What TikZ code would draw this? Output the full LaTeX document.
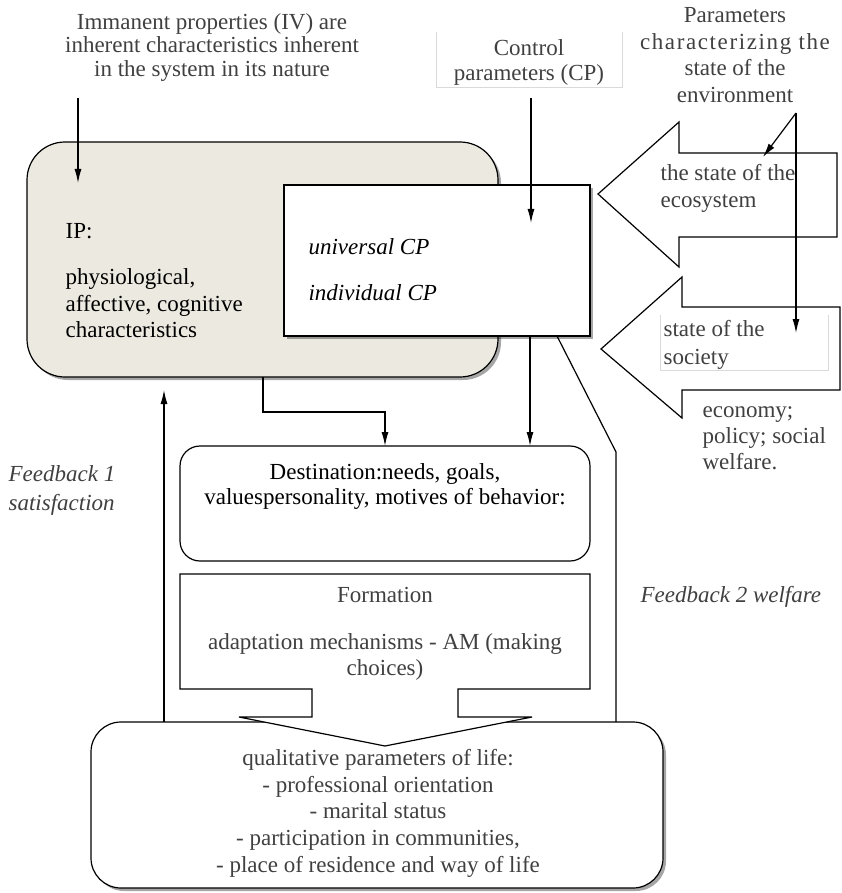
\documentclass[tikz,border=0pt]{standalone}
\usepackage{fontspec}
\setmainfont{Liberation Serif}
\newfontfamily\widefont[LetterSpace=7]{Liberation Serif}
\usetikzlibrary{arrows.meta,shadows}
\definecolor{txtgray}{RGB}{64,64,64}
\definecolor{ipfill}{RGB}{236,233,224}
\definecolor{faint}{RGB}{218,218,218}
\begin{document}
\begin{tikzpicture}[x=1pt,y=-1pt,line width=1.2pt,
  arr/.style={-{Latex[length=14pt,width=7pt]}},
  shad/.style={drop shadow={shadow xshift=3pt,shadow yshift=-3pt,fill=black,opacity=.35}},
  txt/.style={inner sep=0pt,font=\fontsize{23}{26.5}\selectfont},
  gtxt/.style={txt,text=txtgray},
  boxnode/.style={draw,inner sep=0pt,outer sep=0pt,anchor=north west}]
\useasboundingbox (0,0) rectangle (841,893);

% top-left text
\node[gtxt,align=center,anchor=north,font=\fontsize{23}{23.3}\selectfont] (iv) at (212,12.7)
  {\strut Immanent properties (IV) are\\inherent characteristics inherent\\in the system in its nature};

% IP box
\node[boxnode,fill=ipfill,rounded corners=38pt,shad,minimum width=471pt,minimum height=235pt] (ip) at (27,142) {};
\node[txt,anchor=base west] (iph) at (65,239) {IP:};
\node[txt,align=left,anchor=north west,font=\fontsize{23}{26.7}\selectfont] (ipt) at (65,265.3)
  {\strut physiological,\\affective, cognitive\\characteristics};

% CP box
\node[boxnode,fill=white,shad,minimum width=306pt,minimum height=151pt] (cp) at (284,185) {};
\node[txt,anchor=base west,font=\fontsize{23}{26.5}\selectfont\itshape] (ucp) at (308,254) {universal CP};
\node[txt,anchor=base west,font=\fontsize{23}{26.5}\selectfont\itshape] (icp) at (308,300) {individual CP};

% control parameters
\node[gtxt,align=center,anchor=north,font=\fontsize{23}{25}\selectfont] (ctl) at (529,37.5)
  {\strut Control\\parameters (CP)};
\draw[faint,line width=0.8pt] (436,32) -- (436,87) -- (622,87) -- (622,32);

% environment text
\node[gtxt,align=center,anchor=north,font=\fontsize{23}{26.7}\selectfont] (env) at (735,3.3)
  {\strut Parameters\\{\widefont characterizing the}\\state of the\\environment};

% big block arrows
\draw[fill=white] (598,194) -- (679,122) -- (679,153) -- (837,153) -- (837,237) -- (679,237) -- (679,267) -- cycle;
\draw[fill=white] (601,349) -- (682,277) -- (682,307) -- (840,307) -- (840,390) -- (682,390) -- (682,418) -- cycle;
\node[gtxt,align=left,anchor=north west,font=\fontsize{23}{27}\selectfont] (eco) at (660,161)
  {\strut the state of the\\ecosystem};
\node[gtxt,align=left,anchor=north west,font=\fontsize{23}{28}\selectfont] (soc) at (663,316)
  {\strut state of the\\society};
\draw[faint,line width=0.8pt] (660,315) -- (660,370) -- (828,370) -- (828,315);
\node[gtxt,align=left,anchor=north west,font=\fontsize{23}{26}\selectfont] (econ) at (702,399)
  {\strut economy;\\policy; social\\welfare.};

% destination box
\node[boxnode,fill=white,rounded corners=20pt,minimum width=410pt,minimum height=115pt] (dest) at (180,446) {};
\node[txt,align=center,anchor=north,font=\fontsize{23}{25}\selectfont] (destt) at (385,461.5)
  {\strut Destination:needs, goals,\\valuespersonality, motives of behavior:};

% bottom box
\node[boxnode,fill=white,rounded corners=30pt,shad,minimum width=572pt,minimum height=166pt] (qual) at (91,722) {};
\node[gtxt,align=center,anchor=north,font=\fontsize{23}{26.7}\selectfont] (qualt) at (378,746)
  {\strut qualitative parameters of life:\\- professional orientation\\- marital status\\- participation in communities,\\- place of residence and way of life};

% formation block arrow
\draw[fill=white] (180,574) -- (590,574) -- (590,689) -- (458,689) -- (458,717) -- (532,717) -- (385,746)
  -- (239,717) -- (312,717) -- (312,689) -- (180,689) -- cycle;
\node[gtxt,anchor=base] (form) at (385,602) {Formation};
\node[gtxt,align=center,anchor=north,font=\fontsize{23}{26}\selectfont] (adapt) at (385,631)
  {\strut adaptation mechanisms - AM (making\\choices)};

% feedback labels
\node[gtxt,align=left,anchor=north west,font=\fontsize{23}{29}\selectfont\itshape] (fb1) at (8,461)
  {\strut Feedback 1\\satisfaction};
\node[gtxt,anchor=base west,font=\fontsize{23}{26}\selectfont\itshape] (fb2) at (640,602) {Feedback 2 welfare};

% connectors
\coordinate (ivS) at (78,98);
\coordinate (ivE) at (78,183);
\draw[arr] (ivS) -- (ivE);

\coordinate (ctlS) at (531,98);
\coordinate (ctlE) at (531,223);
\draw[arr] (ctlS) -- (ctlE);

\coordinate (apex) at (796,113);
\coordinate (ecoE) at (763,157);
\coordinate (socE) at (796,333);
\draw[arr] (apex) -- (ecoE);
\draw[arr] (apex) -- (socE);

\coordinate (k1) at (263,412);
\coordinate (k2) at (385,412);
\draw[arr] (ip.south -| k1) -- (k1) -- (k2) -- (dest.north -| k2);

\coordinate (k3) at (530,0);
\draw[arr] (cp.south -| k3) -- (dest.north -| k3);

\coordinate (fb1E) at (164,390);
\draw[arr] (qual.north -| fb1E) -- (fb1E);

\coordinate (k7) at (557,0);
\coordinate (k8) at (616,452);
\draw (cp.south -| k7) -- (k8) -- (qual.north -| k8);
\end{tikzpicture}
\end{document}
